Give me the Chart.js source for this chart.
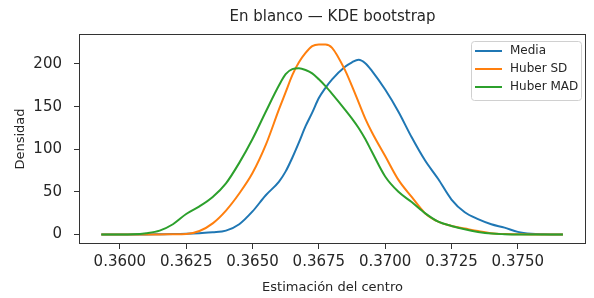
<!DOCTYPE html>
<html>
<head>
<meta charset="utf-8">
<script src="https://cdn.jsdelivr.net/npm/chart.js@4"></script>
<style>
  body { margin: 0; background: #fff; }
  #wrap { width: 594px; height: 298px; }
</style>
</head>
<body>
<div id="wrap"><canvas id="kdeChart" width="594" height="298"></canvas></div>
<script>
'use strict';

// KDE of bootstrap estimates
const xs = [
  0.3593, 0.3600, 0.3605, 0.3610, 0.3615, 0.3620, 0.3625, 0.3630, 0.3635,
  0.3640, 0.3645, 0.3650, 0.3655, 0.3660, 0.36625, 0.3665, 0.36675, 0.3670,
  0.36725, 0.3675, 0.36775, 0.3680, 0.3685, 0.36875, 0.3690, 0.36925, 0.3695,
  0.3700, 0.3705, 0.3710, 0.3715, 0.3720, 0.3725, 0.3730, 0.3735, 0.3740,
  0.3745, 0.3750, 0.3755, 0.3760, 0.3765, 0.3767,
];

const media = [
  0, 0, 0, 0, 0.2, 0.4, 0.8, 1.5, 2.5,
  4.5, 12, 27, 46, 62, 74, 90, 108, 127,
  143, 160, 172, 182, 197, 202, 205, 201, 192,
  170, 144, 114, 87, 65, 41, 26, 18, 12,
  8, 3, 0.8, 0.2, 0, 0,
];

const huberSD = [
  0, 0, 0, 0, 0, 0.2, 0.5, 4, 13,
  28, 48, 72, 105, 147, 167, 187, 202, 213,
  221, 223, 223, 219, 192, 174, 155, 136, 120,
  92, 64, 44, 25, 15, 10, 7, 4, 1.5,
  0.5, 0.2, 0, 0, 0, 0,
];

const huberMAD = [
  0, 0, 0.2, 1.5, 4.5, 12, 24, 33, 44,
  60, 84, 112, 144, 175, 188, 194, 195, 193,
  189, 182, 174, 165, 146, 136, 125, 112, 97,
  68, 50, 38, 25, 15, 10, 6, 3, 1,
  0.3, 0, 0, 0, 0, 0,
];

const xTicks = [0.3600, 0.3625, 0.3650, 0.3675, 0.3700, 0.3725, 0.3750];
const yTicks = [0, 50, 100, 150, 200];

const seriesNames = ['Media', 'Huber SD', 'Huber MAD'];
const seriesColors = ['#1f77b4', '#ff7f0e', '#2ca02c'];
const seriesValues = [media, huberSD, huberMAD];

Chart.defaults.font.family = '"DejaVu Sans", sans-serif';
Chart.defaults.color = '#262626';

function points(ys) {
  return xs.map((x, i) => ({ x: x, y: ys[i] }));
}

// box around the plot, title and legend like matplotlib
const frame = {
  id: 'frame',
  afterDraw(chart) {
    const ctx = chart.ctx;
    const a = chart.chartArea;
    ctx.save();

    ctx.strokeStyle = '#333';
    ctx.lineWidth = 1;
    ctx.strokeRect(a.left + 0.5, a.top + 0.5, a.right - a.left - 1, a.bottom - a.top - 1);

    ctx.fillStyle = '#262626';
    ctx.font = '15px "DejaVu Sans"';
    ctx.textAlign = 'center';
    ctx.textBaseline = 'middle';
    ctx.fillText('En blanco — KDE bootstrap', (a.left + a.right) / 2, 17);

    // legend
    const bw = 110, bh = 59;
    const bx = a.right - 5 - bw, by = a.top + 7;
    ctx.beginPath();
    ctx.roundRect(bx + 0.5, by + 0.5, bw, bh, 3);
    ctx.fillStyle = 'rgba(255,255,255,0.8)';
    ctx.fill();
    ctx.strokeStyle = '#d0d0d0';
    ctx.stroke();

    ctx.font = '12px "DejaVu Sans"';
    ctx.textAlign = 'left';
    chart.data.datasets.forEach((ds, i) => {
      const y = by + 10 + i * 18;
      ctx.strokeStyle = ds.borderColor;
      ctx.lineWidth = 2;
      ctx.beginPath();
      ctx.moveTo(bx + 4, y);
      ctx.lineTo(bx + 31, y);
      ctx.stroke();
      ctx.fillStyle = '#262626';
      ctx.fillText(ds.label, bx + 39, y);
    });
    ctx.restore();
  },
};

const kdeData = {
  datasets: seriesValues.map((ys, i) => ({
    label: seriesNames[i],
    data: points(ys),
    borderColor: seriesColors[i],
    backgroundColor: seriesColors[i],
    borderWidth: 2,
    pointRadius: 0,
    fill: false,
    cubicInterpolationMode: 'monotone',
    order: 2 - i,
  })),
};

const kdeConfig = {
  type: 'line',
  data: kdeData,
  options: {
    responsive: false,
    animation: false,
    layout: { padding: { top: 34, right: 8, left: 0, bottom: 0 } },
    plugins: {
      legend: { display: false },
      title: { display: false },
      tooltip: { enabled: false },
    },
    scales: {
      x: {
        type: 'linear',
        min: 0.35846,
        max: 0.37757,
        afterBuildTicks: (s) => { s.ticks = xTicks.map((v) => ({ value: v })); },
        afterFit: (s) => { s.height = 54; },
        ticks: {
          callback: (v) => Number(v).toFixed(4),
          font: { size: 15 },
          padding: 4,
          maxRotation: 0,
          autoSkip: false,
        },
        grid: { drawOnChartArea: false, tickLength: 5, color: '#333' },
        border: { display: false },
        title: {
          display: true,
          text: 'Estimación del centro',
          font: { size: 13 },
          padding: { top: 0, bottom: 3 },
        },
      },
      y: {
        min: -11.2,
        max: 235.2,
        afterBuildTicks: (s) => { s.ticks = yTicks.map((v) => ({ value: v })); },
        afterFit: (s) => { s.width = 79; },
        ticks: {
          callback: (v) => String(v),
          font: { size: 15 },
          padding: 12,
        },
        grid: { drawOnChartArea: false, tickLength: 5, color: '#333' },
        border: { display: false },
        title: {
          display: true,
          text: 'Densidad',
          font: { size: 13 },
          padding: { top: 13, bottom: 0 },
        },
      },
    },
  },
  plugins: [frame],
};

const kdeChart = new Chart(document.getElementById('kdeChart'), kdeConfig);
</script>
</body>
</html>
